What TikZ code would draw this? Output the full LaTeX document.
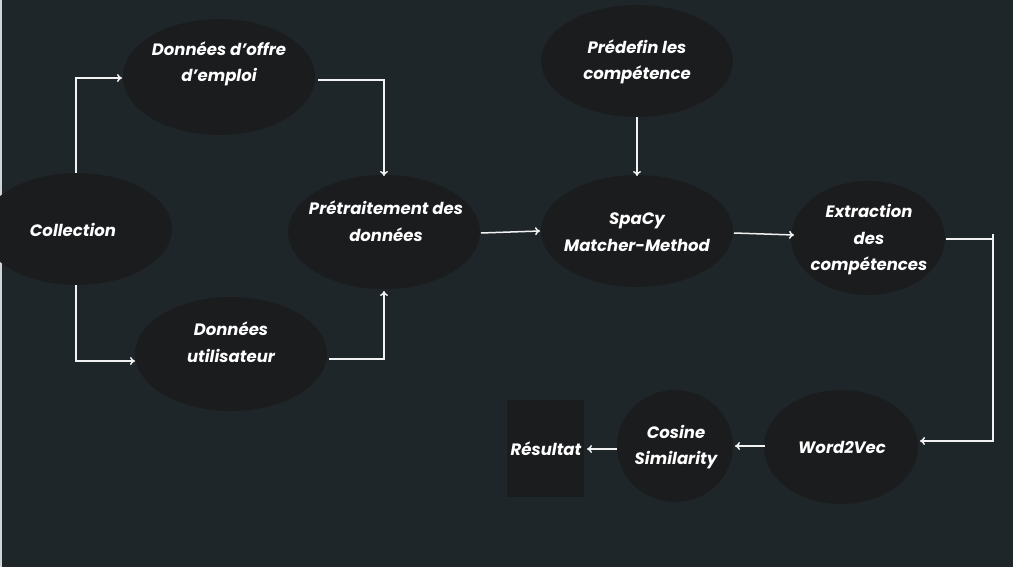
\documentclass[tikz,border=0pt]{standalone}
\usepackage{fontspec}
\setmainfont{Poppins}
\usetikzlibrary{arrows.meta}
\definecolor{bg}{HTML}{1F262A}
\definecolor{blob}{HTML}{1B1C1E}
\definecolor{ln}{HTML}{F2F2F2}
\begin{document}
\begin{tikzpicture}[x=1pt,y=-1pt,
  lbl/.style={text=white,font=\fontsize{16.5}{26.5}\selectfont\bfseries\itshape,align=center},
  blobell/.style={fill=blob,draw=none},
  conn/.style={draw=ln,line width=1.5pt,-{To[length=5pt,width=8pt]}},
  plain/.style={draw=ln,line width=1.5pt}]
\useasboundingbox (0,0) rectangle (1013,567);
\fill[bg] (0,0) rectangle (1013,567);
\fill[ln!85!bg] (0,0) rectangle (2,567);
% shapes
\fill[blobell] (77,229) ellipse [x radius=95,y radius=56];
\fill[blobell] (219,77) ellipse [x radius=96,y radius=58];
\fill[blobell] (231,354) ellipse [x radius=96,y radius=57];
\fill[blobell] (384,232) ellipse [x radius=96,y radius=57];
\fill[blobell] (637,231) ellipse [x radius=96,y radius=56];
\fill[blobell] (637,61) ellipse [x radius=96,y radius=56];
\fill[blobell] (868,238) ellipse [x radius=77,y radius=57];
\fill[blobell] (841,447) ellipse [x radius=77,y radius=57];
\fill[blobell] (675,446) ellipse [x radius=58,y radius=56];
\fill[blob] (507,400) rectangle (584,497);
% nodes
\node[lbl] (col) at (73,230) {Collection};
\coordinate (colT) at (76,173);
\coordinate (colB) at (76,285);
\node[lbl] (off) at (219,64) {Données d'offre\\d'emploi};
\coordinate (offL) at (122,78);
\coordinate (offR) at (318,80);
\node[lbl] (usr) at (231,342) {Données\\utilisateur};
\coordinate (usrL) at (135,361);
\coordinate (usrR) at (329,359);
\node[lbl] (pre) at (386,221) {Prétraitement des\\données};
\coordinate (preT) at (384,176);
\coordinate (preB) at (384,291);
\coordinate (preR) at (481,233);
\node[lbl] (spa) at (637,232) {SpaCy\\Matcher-Method};
\coordinate (spaL) at (540,231);
\coordinate (spaT) at (637,176);
\coordinate (spaR) at (734,233);
\node[lbl] (pdf) at (637,62) {Prédefin les\\compétence};
\coordinate (pdfB) at (637,117);
\node[lbl] (ext) at (869,240) {Extraction\\des\\compétences};
\coordinate (extL) at (794,235);
\coordinate (extR) at (946,239);
\node[lbl] (w2v) at (842,447) {Word2Vec};
\coordinate (w2vR) at (920,441);
\coordinate (w2vL) at (765,446);
\node[lbl] (cos) at (676,447) {Cosine\\Similarity};
\coordinate (cosR) at (735,446);
\coordinate (cosL) at (617,449);
\node[lbl] (res) at (546,449) {Résultat};
\coordinate (resR) at (587,449);
% connectors
\draw[conn] (colT) |- (offL);
\draw[conn] (colB) |- (usrL);
\draw[conn] (offR) -| (preT);
\draw[conn] (usrR) -| (preB);
\draw[conn] (preR) -- (spaL);
\draw[conn] (pdfB) -- (spaT);
\draw[conn] (spaR) -- (extL);
\draw[conn] (extR) -- (993,239) -- (993,441) -- (w2vR);
\draw[plain] (993,234) -- (993,239);
\draw[conn] (w2vL) -- (cosR);
\draw[conn] (cosL) -- (resR);
\end{tikzpicture}
\end{document}
